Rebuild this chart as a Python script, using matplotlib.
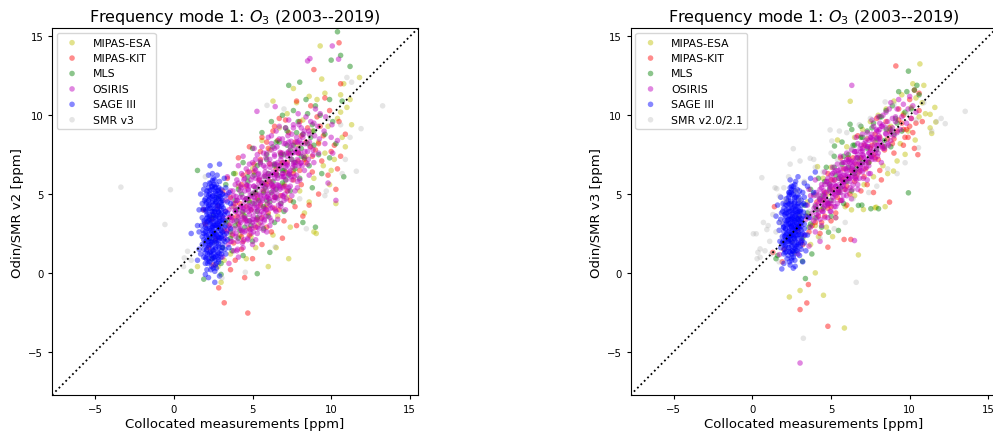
import matplotlib
matplotlib.use("Agg")
import matplotlib.pyplot as plt

# ---------------- data: (collocated, SMR) pairs in ppm ----------------
# Left panel: Odin/SMR v2
esa_v2 = [(1.5,0.4),(3.0,-0.6),(6.0,0.4),(7.3,0.9),(8.9,2.6),(9.05,2.5),(10.3,4.4),(10.2,7.2),(9.3,14.4),(11.8,12.4),
          (9.4,12.3),(7.6,11.7),(11.0,10.5),(10.6,10.2),(9.6,11.4),(8.6,11.2),(7.8,10.8),(9.1,11.0),(8.2,9.7),(9.8,9.3),
          (10.7,8.6),(10.4,9.8),(10.9,8.0),(9.2,8.3),(8.4,7.4),(7.6,6.5),(9.5,6.8),(8.9,6.0),(8.0,5.2),(9.9,5.6),
          (7.2,4.8),(6.6,3.6),(8.3,3.8),(7.4,2.9),(6.3,2.4),(5.2,1.6),(4.6,0.9),(5.4,3.1),(4.2,2.4),(3.6,1.2),
          (2.8,0.4),(3.3,3.2),(4.8,4.6),(5.8,5.7),(6.8,6.9),(7.9,8.1),(6.1,7.8),(5.0,6.6),(4.1,5.5),(3.9,6.3),
          (5.6,8.4),(6.7,9.2),(7.2,10.1),(6.3,10.9),(8.8,9.0),(9.6,7.6),(10.0,6.5),(11.3,9.4),(11.2,11.0),(10.8,12.0),
          (4.4,3.7),(5.9,4.3),(7.0,5.6),(8.6,4.5),(3.8,4.2),(2.6,2.0),(4.9,2.3),(6.5,1.6),(3.2,0.8),(10.6,11.3)]
kit_v2 = [(4.7,-2.55),(3.2,-1.9),(2.85,-0.95),(4.5,-0.3),(3.6,0.2),(2.2,1.6),(2.5,0.5),(3.9,0.8),(4.3,1.5),(5.0,0.9),
          (5.6,1.8),(6.2,2.6),(7.0,3.3),(7.8,3.0),(8.6,4.3),(9.2,5.0),(9.8,6.2),(10.4,6.6),(10.6,7.4),(10.2,8.1),
          (10.9,8.8),(10.5,9.6),(9.9,10.3),(10.6,12.0),(10.5,14.6),(8.9,12.9),(9.6,11.1),(8.7,10.6),(7.8,10.9),(7.1,9.7),
          (6.4,9.3),(5.6,8.6),(4.8,8.0),(4.1,7.3),(3.4,6.0),(3.1,5.2),(2.8,4.2),(2.4,3.4),(3.2,2.7),(3.7,3.5),
          (4.2,4.4),(4.6,5.5),(5.1,6.4),(5.5,7.2),(6.0,7.9),(6.6,8.4),(7.3,8.9),(8.0,9.6),(8.5,9.2),(9.1,9.9),
          (9.5,8.7),(9.0,7.8),(8.3,7.2),(7.6,6.3),(7.0,5.5),(6.4,4.8),(5.8,4.1),(5.3,3.4),(4.8,2.8),(4.3,2.3),
          (3.8,1.9),(5.9,2.9),(6.7,4.0),(7.4,4.6),(8.1,5.6),(8.8,6.4),(9.4,7.1),(10.0,7.7),(7.9,7.6),(7.2,7.0),
          (6.5,6.3),(5.9,5.6),(5.2,5.0),(4.6,4.2),(4.0,3.6),(3.5,3.0),(6.1,6.9),(6.8,7.6),(5.4,5.9),(4.4,6.2),
          (8.4,8.3),(9.3,9.3),(3.6,4.8),(2.7,2.2),(2.0,3.1),(6.9,2.2),(7.7,4.2),(8.2,3.6),(10.3,5.3),(1.9,4.0),
          (3.7,2.4),(4.1,3.1),(4.5,3.4),(4.9,4.0),(5.3,4.7),(5.7,5.2),(6.1,5.8),(6.5,6.6),(6.9,7.0),(7.3,7.6),
          (7.7,8.3),(8.1,8.7),(3.9,4.4),(4.3,5.6),(4.7,6.4),(5.1,6.9),(5.5,7.7),(5.9,8.3),(6.3,9.0),(6.7,9.8),
          (4.4,2.0),(4.8,2.4),(5.2,2.9),(5.6,3.5),(6.0,3.8),(6.4,4.1),(6.8,4.9),(7.2,5.2),(7.6,5.9),(8.0,6.5),
          (8.4,7.0),(8.8,7.4),(9.2,8.2),(5.5,4.3),(6.3,5.5),(7.1,6.4),(7.9,7.1),(8.7,8.0)]
mls_v2 = [(10.4,15.3),(10.6,13.8),(11.2,13.1),(10.0,13.5),(8.0,12.1),(7.3,11.9),(9.9,11.0),(10.7,10.9),(9.0,10.6),(8.4,11.0),
          (7.6,10.3),(6.9,10.0),(6.2,9.6),(5.6,8.9),(5.0,7.9),(4.4,7.0),(3.8,6.3),(3.3,5.6),(1.5,6.5),(2.8,4.8),
          (2.5,3.6),(2.3,2.2),(1.1,0.1),(1.9,-0.4),(5.3,-0.05),(3.0,0.6),(3.7,1.4),(4.4,1.1),(5.0,2.0),(5.7,2.8),
          (6.4,3.2),(7.0,3.9),(7.6,4.5),(8.2,3.2),(8.8,5.4),(9.4,6.3),(9.9,7.3),(10.3,8.2),(9.6,8.8),(8.9,8.1),
          (8.3,7.3),(7.7,6.6),(7.1,5.9),(6.5,5.3),(5.9,4.6),(5.3,3.9),(4.8,3.3),(4.2,2.7),(3.6,2.2),(3.1,1.6),
          (3.4,3.3),(4.0,4.0),(4.6,4.7),(5.2,5.4),(5.8,6.1),(6.4,6.8),(7.0,7.5),(7.6,8.1),(8.2,8.8),(8.8,9.4),
          (9.3,10.0),(4.1,5.3),(4.7,6.1),(5.3,6.8),(5.9,7.5),(6.5,8.3),(7.2,9.0),(7.9,9.6),(8.5,10.1),(6.0,3.6),
          (6.8,4.4),(7.4,5.2),(8.0,6.0),(8.6,6.8),(9.2,7.5),(3.9,3.0),(4.5,3.6),(5.1,4.4),(5.7,5.1),(6.3,5.8),
          (6.9,6.5),(7.5,7.2),(8.1,7.9),(8.7,8.6),(10.1,9.6),(10.8,6.1),(6.1,1.3),(9.0,2.9),(3.0,-0.1),(2.4,0.9),
          (3.6,2.6),(4.0,3.3),(4.4,3.9),(4.8,4.5),(5.2,5.1),(5.6,5.7),(6.0,6.3),(6.4,6.9),(6.8,7.5),(7.2,8.1),
          (3.9,4.6),(4.3,5.0),(4.7,5.8),(5.1,6.2),(5.5,7.0),(5.9,7.2),(6.3,8.0),(6.7,8.3),(7.1,9.2),(4.1,2.2),
          (4.5,2.9),(4.9,3.0),(5.3,3.5),(5.7,4.2),(6.1,4.5),(6.5,4.8),(6.9,5.7),(7.3,6.2),(7.7,7.0),(8.1,7.4),
          (8.5,8.2),(8.9,9.0),(5.0,5.0),(5.4,4.6),(5.8,5.4),(6.2,5.1),(6.6,6.2),(7.0,6.5),(7.4,7.8),(7.8,8.9)]
osiris_v2 = [(3.1,1.0),(3.25,2.2),(3.15,3.5),(3.3,4.6),(3.5,0.6),(3.45,1.8),(3.55,2.9),(3.5,4.0),(3.6,5.2),(3.4,6.1),
             (3.8,1.4),(3.75,2.5),(3.85,3.3),(3.8,4.4),(3.9,5.6),(4.1,1.0),(4.05,2.0),(4.15,3.0),(4.1,3.8),(4.2,4.8),
             (4.0,5.9),(4.1,6.8),(4.4,1.6),(4.35,2.6),(4.45,3.5),(4.4,4.3),(4.5,5.2),(4.3,6.3),(4.4,7.4),(4.7,2.2),
             (4.65,3.1),(4.75,3.9),(4.7,4.7),(4.8,5.5),(4.6,6.6),(5.0,1.8),(4.95,2.8),(5.05,3.6),(5.0,4.4),(5.1,5.1),
             (4.9,5.9),(5.0,7.0),(5.1,7.9),(5.3,2.5),(5.25,3.4),(5.35,4.2),(5.3,4.9),(5.4,5.7),(5.2,6.5),(5.3,7.5),
             (5.28,10.25),(5.6,3.0),(5.55,3.9),(5.65,4.6),(5.6,5.3),(5.7,6.1),(5.5,6.9),(5.6,8.0),(5.9,2.6),(5.85,3.6),
             (5.95,4.4),(5.9,5.2),(6.0,5.9),(5.8,6.7),(5.9,7.6),(6.0,8.6),(6.2,3.3),(6.15,4.1),(6.25,5.0),(6.2,5.7),
             (6.3,6.4),(6.1,7.2),(6.2,8.2),(6.5,3.9),(6.45,4.8),(6.55,5.6),(6.5,6.3),(6.6,7.0),(6.4,7.9),(6.5,9.0),
             (6.44,10.55),(6.8,4.4),(6.75,5.3),(6.85,6.1),(6.8,6.8),(6.9,7.6),(6.7,8.5),(7.1,4.0),(7.05,5.0),(7.15,5.9),
             (7.1,6.7),(7.2,7.4),(7.0,8.2),(7.1,9.2),(7.4,5.5),(7.35,6.4),(7.45,7.2),(7.4,8.0),(7.5,8.8),(7.3,9.7),
             (7.7,5.2),(7.65,6.1),(7.75,7.0),(7.7,7.8),(7.8,8.6),(7.6,9.4),(8.0,5.9),(7.95,6.8),(8.05,7.6),(8.0,8.4),
             (8.1,9.2),(7.9,10.1),(8.3,6.5),(8.25,7.4),(8.35,8.2),(8.3,9.0),(8.4,9.9),(8.6,6.2),(8.55,7.2),(8.65,8.0),
             (8.6,8.8),(8.7,9.6),(8.5,13.45),(8.65,13.6),(8.9,7.0),(8.85,7.8),(8.95,8.7),(8.9,9.5),(9.0,10.4),(9.2,7.6),
             (9.25,8.5),(9.15,9.3),(9.3,10.1),(9.6,8.2),(9.55,9.0),(9.65,9.9),(10.0,8.6),(10.05,9.4),(10.07,14.4),(10.47,13.56),
             (10.3,4.6),(9.8,5.7),(10.1,7.6),(4.25,3.2),(4.55,4.0),(4.85,3.3),(5.15,4.6),(5.45,3.7),(5.75,4.9),(6.05,5.5),
             (6.35,4.6),(6.65,6.6),(4.6,2.7),(5.2,2.1),(3.95,4.1),(4.25,5.5),(5.75,5.7),(6.95,5.4),(6.35,6.9),(5.45,5.9),
             (4.7,4.3),(5.1,3.0),(5.5,4.4),(5.85,4.0),(6.15,6.2),(6.55,5.0),(7.25,6.3),(7.55,7.6),(7.85,7.2),(10.4,8.4),
             (3.35,2.6),(3.65,3.6),(3.95,2.3),(4.25,4.2),(4.55,3.3),(4.85,4.9),(5.15,3.9),(5.45,5.0),(5.75,3.4),(6.05,4.7),
             (6.35,5.5),(6.65,4.3),(6.95,6.1),(7.25,5.2),(7.55,6.7),(7.85,5.8),(3.6,3.1),(3.9,3.9),(4.2,2.8),(4.5,4.6),
             (4.8,3.7),(5.1,5.5),(5.4,4.5),(5.7,3.8),(6.0,6.3),(6.3,5.2),(6.6,6.0),(6.9,4.9),(7.2,6.8),(7.5,5.9),
             (4.0,4.6),(4.3,3.6),(4.6,5.6),(4.9,4.1),(5.2,6.0),(5.5,3.2),(5.8,6.4),(6.1,4.3),(6.4,7.4),(6.7,5.5),
             (7.0,7.0),(7.3,8.3),(7.6,6.9),(7.9,7.9),(8.2,8.6),(8.5,7.7),(3.7,2.0),(4.05,1.5),(4.45,2.1),(4.9,2.5),
             (5.3,2.9),(5.7,2.7),(6.1,3.0),(6.6,3.4),(7.0,4.6),(4.2,5.2),(4.5,6.0),(4.8,6.9),(5.2,7.2),(5.7,7.6),
             (6.2,8.7),(6.7,9.3),(3.5,3.5),(3.8,4.9),(5.0,3.2),(5.4,6.3),(5.9,4.8),(6.4,6.0),(6.8,7.2),(7.3,7.7),
             (4.35,3.9),(4.75,5.2),(5.15,4.3),(5.6,5.7),(6.0,5.0),(6.45,5.3),(6.9,6.3),(7.4,6.5),(7.8,8.3),(8.1,7.0),
             (3.4,2.7),(3.72,3.35),(4.08,3.5),(4.43,4.1),(4.82,4.2),(5.12,4.78),(5.53,4.9),(5.83,5.5),(6.22,5.6),(6.52,6.2),
             (6.93,6.3),(7.22,6.9),(7.63,7.0),(7.92,7.6),(8.33,7.7),(8.62,8.3),(3.3,3.9),(3.68,4.2),(4.02,4.6),(4.38,4.8),
             (4.72,5.3),(5.08,5.5),(5.42,6.0),(5.78,6.2),(6.12,6.7),(6.48,6.9),(6.82,7.4),(7.18,7.6),(7.52,8.1),(7.88,8.3),
             (8.22,8.8),(8.58,9.0),(3.6,2.0),(3.95,2.5),(4.3,2.7),(4.65,3.3),(5.0,3.4),(5.35,4.0),(5.7,4.1),(6.05,4.7),
             (6.4,4.8),(6.75,5.4),(7.1,5.5),(7.45,6.1),(7.8,6.2),(8.15,6.8),(8.5,6.9),(8.85,7.5),(3.4,5.0),(3.75,5.2),
             (4.1,5.7),(4.45,5.9),(4.8,6.4),(5.15,6.6),(5.5,7.1),(5.85,7.3),(6.2,7.8),(6.55,8.0),(6.9,8.5),(7.25,8.7),
             (7.6,9.2),(7.95,9.4),(4.0,1.4),(4.35,1.9),(4.7,2.1),(5.05,2.6),(5.4,2.8),(5.75,3.3),(6.1,3.5),(6.45,4.0),
             (6.8,4.2),(7.15,4.7),(7.5,4.9),(7.85,5.4),(3.55,3.5),(3.9,3.95),(4.25,4.15),(4.6,4.7),(4.95,4.85),(5.3,5.4),
             (5.65,5.55),(6.0,6.1),(6.35,6.25),(6.7,6.8),(7.05,6.95),(7.4,7.5),(7.75,7.65),(8.1,8.2),(3.85,2.8),(4.2,3.3),
             (4.55,3.45),(4.9,4.0),(5.25,4.15),(5.6,4.7),(5.95,4.85),(6.3,5.4),(6.65,5.55),(7.0,6.1),(7.35,6.25),(7.7,6.8),
             (8.05,6.95),(3.6,4.7),(3.95,4.85),(4.3,5.4),(4.65,5.55),(5.0,6.1),(5.35,6.25),(5.7,6.8),(6.05,6.95),(6.4,7.5),
             (6.75,7.65),(7.1,8.2),(7.45,8.35),(4.5,2.6),(4.85,2.75),(5.2,3.3),(5.55,3.45),(5.9,4.0),(6.25,4.15),(6.6,4.7),
             (6.95,4.85),(7.3,5.4)]
sage_v2 = [(2.0,0.6),(2.2,0.9),(2.4,1.1),(2.6,0.8),(2.8,1.3),(3.0,1.0),(2.1,1.5),(2.3,1.8),(2.5,1.4),(2.7,1.9),
           (2.9,1.6),(3.1,1.8),(1.9,2.1),(2.2,2.4),(2.4,2.2),(2.6,2.6),(2.8,2.3),(3.0,2.7),(3.2,2.4),(2.0,2.9),
           (2.3,3.1),(2.5,2.9),(2.7,3.3),(2.9,3.0),(3.1,3.4),(1.8,3.5),(2.1,3.7),(2.4,3.5),(2.6,3.9),(2.8,3.6),
           (3.0,4.0),(2.2,4.3),(2.5,4.1),(2.7,4.5),(2.9,4.2),(3.1,4.6),(2.0,4.7),(2.3,5.0),(2.6,4.8),(2.8,5.2),
           (2.4,5.5),(2.7,5.6),(3.0,5.3),(2.9,5.8),(2.5,6.0),(1.7,1.2),(1.6,2.6),(1.8,4.4),(1.9,1.0),(2.1,0.2),
           (2.4,0.4),(2.7,0.3),(3.3,1.2),(3.4,2.1),(3.3,3.0),(3.4,3.8),(3.3,4.9),(3.5,5.1),(3.5,1.6),(2.0,-0.1),
           (2.6,-0.6),(2.2,-0.3),(2.9,-0.2),(2.3,6.8),(2.9,6.9),(1.1,2.5),(1.5,3.0),(1.6,4.0),(1.7,5.0),(2.0,5.6),
           (2.2,6.2),(3.2,6.0),(3.6,4.4),(3.6,2.8),(1.8,1.8),(1.6,1.5),(1.5,0.8),(2.15,1.2),(2.45,1.65),(2.75,1.15),
           (2.35,2.7),(2.65,2.15),(2.95,2.45),(2.25,3.4),(2.55,3.25),(2.85,3.85),(2.15,4.05),(2.45,4.55),(2.75,4.05),(2.35,5.25),
           (2.65,5.15),(2.95,4.85),(2.05,2.35),(3.05,3.15),(2.5,0.3),(1.95,3.2),(2.2,2.0),(2.55,1.95),(2.85,2.85),(2.4,3.9),
           (2.65,4.4),(2.3,4.8),(2.9,3.5),(2.6,3.0),(2.1,2.8),(3.15,2.1),(2.0,1.8),(2.35,1.35),(2.65,1.6),(2.5,2.4),
           (2.8,1.7),(2.45,2.95),(2.7,3.6),(2.2,3.3),(2.95,4.5),(2.5,5.3),(2.3,4.3),(2.75,2.6),(2.05,4.4),(3.2,3.7),
           (2.6,5.9),(2.85,0.7),(2.15,0.6),(1.85,2.7),(3.1,5.0),(2.3,0.7),(2.55,0.95),(2.0,1.25),(3.25,1.5),(2.4,2.55),
           (2.1,3.25),(2.75,3.0),(3.05,3.8),(2.5,3.7),(2.2,4.6),(2.85,4.7),(2.55,5.6),(2.1,5.2),(3.0,2.2),(1.85,4.0),
           (2.05,0.9),(2.3,1.3),(2.55,1.2),(2.8,1.0),(3.0,1.4),(2.1,2.1),(2.35,1.95),(2.6,2.3),(2.85,2.05),(3.1,2.6),
           (2.0,2.6),(2.25,2.8),(2.5,2.65),(2.75,3.15),(3.0,2.95),(2.15,3.55),(2.4,3.25),(2.65,3.65),(2.9,3.3),(3.15,4.1),
           (2.05,3.9),(2.3,4.1),(2.55,3.85),(2.8,4.3),(3.05,4.35),(2.2,4.9),(2.45,4.85),(2.7,4.75),(2.95,5.1),(2.35,5.7),
           (2.6,5.45),(2.85,5.4),(2.45,6.3),(2.75,6.2),(1.9,1.5),(1.95,4.6),(1.9,5.3),(3.3,5.4),(3.35,2.5),(3.4,4.5),
           (2.5,1.0),(2.7,0.6),(2.35,0.2),(2.6,0.1),(2.15,1.75),(2.9,2.2),(2.4,2.0),(2.7,2.4),(2.55,3.0),(2.3,3.6),
           (2.8,3.9),(2.5,4.3),(2.2,5.4),(2.75,5.0),(3.0,4.7),(1.75,3.0),(1.8,2.3),(3.25,3.3),(2.95,3.7),(2.6,4.65),
           (2.03,0.95),(2.07,1.45),(2.02,2.0),(2.06,2.45),(2.04,3.0),(2.08,3.45),(2.03,4.0),(2.07,4.5),(2.05,5.0),
           (2.24,0.7),(2.27,1.2),(2.23,1.7),(2.26,2.2),(2.22,2.7),(2.28,3.2),(2.25,3.7),(2.21,4.2),(2.27,4.7),(2.24,5.2),(2.26,5.7),
           (2.44,0.9),(2.47,1.45),(2.43,1.9),(2.46,2.45),(2.42,2.9),(2.48,3.45),(2.45,3.9),(2.41,4.45),(2.47,4.9),(2.44,5.45),(2.46,5.85),
           (2.64,0.5),(2.67,1.05),(2.63,1.5),(2.66,2.05),(2.62,2.5),(2.68,3.05),(2.65,3.5),(2.61,4.05),(2.67,4.5),(2.64,5.05),(2.66,5.4),
           (2.84,0.85),(2.87,1.25),(2.83,1.85),(2.86,2.25),(2.82,2.85),(2.88,3.25),(2.85,3.85),(2.81,4.25),(2.87,4.85),(2.84,5.25),
           (3.04,1.2),(3.07,1.6),(3.03,2.3),(3.06,2.6),(3.02,3.3),(3.08,3.6),(3.05,4.2),(3.01,4.5),(3.07,5.0),
           (1.9,2.5),(1.92,3.3),(1.88,4.1),(3.25,2.0),(3.22,2.9),(3.27,3.9)]
smr3_v2 = [(-3.37,5.44),(-0.22,5.28),(-0.57,3.07),(0.61,0.4),(0.66,0.95),(0.87,1.37),(1.1,0.8),(13.27,10.6),(11.9,9.15),(11.6,6.45),
           (11.0,12.4),(11.3,12.1),(5.92,10.63),(8.42,2.8),(10.9,7.2),(10.7,6.3),(11.2,8.6),(9.8,9.8),(10.6,9.4),(7.0,10.4),
           (3.05,-0.32),(4.54,0.04),(6.44,1.65),(9.69,5.19),(9.6,4.9),(8.0,4.7),(2.0,6.1)]

# Right panel: Odin/SMR v3
esa_v3 = [(10.65,13.26),(6.22,10.89),(11.66,9.57),(4.0,0.0),(3.03,-1.12),(2.35,-1.53),(4.52,-1.42),(5.85,-3.5),(6.74,1.14),(7.06,4.02),
          (7.8,4.13),(8.44,4.2),(11.3,10.06),(11.6,10.5),(11.3,9.2),(11.4,8.85),(10.8,10.8),(10.4,11.1),(10.2,12.0),(10.9,11.9),
          (9.9,9.0),(9.4,8.2),(10.35,8.43),(9.71,7.52),(8.97,6.46),(8.3,6.8),(7.7,6.1),(7.1,5.6),(6.5,4.9),(5.9,4.2),
          (5.3,3.5),(4.7,2.9),(4.2,2.3),(3.7,1.8),(2.7,1.3),(2.0,1.5),(3.0,3.6),(3.5,4.5),(4.14,6.74),(4.5,6.0),
          (5.0,6.7),(5.41,8.43),(6.0,8.0),(6.5,8.6),(7.0,9.1),(7.5,9.6),(8.0,10.0),(8.5,10.4),(9.0,10.9),(9.5,11.3),
          (7.8,8.3),(6.8,7.2),(5.8,6.0),(4.8,5.0),(8.8,9.3),(9.6,10.1),(10.6,9.9),(6.3,4.0),(8.6,6.3),(9.2,7.1),
          (4.0,3.0),(2.5,2.0),(11.0,10.1),(5.1,2.3),(7.87,4.17),(10.1,10.5)]
kit_v3 = [(9.12,13.13),(8.72,4.49),(10.52,7.5),(3.56,-0.74),(3.46,-1.91),(3.03,-2.33),(4.8,-3.39),(5.83,2.12),(6.26,2.12),(4.8,1.63),
          (1.4,4.2),(1.3,1.3),(1.9,0.7),(3.2,1.8),(3.6,2.6),(4.0,3.2),(4.3,2.5),(4.6,3.6),(5.0,4.2),(5.3,3.8),
          (5.6,4.6),(5.9,5.3),(6.2,5.0),(6.5,5.8),(6.8,6.4),(7.1,6.1),(7.4,7.0),(7.7,7.5),(8.0,7.2),(8.3,8.0),
          (8.6,8.5),(8.9,8.2),(9.2,9.0),(9.5,9.5),(9.8,9.1),(10.1,9.8),(10.4,9.5),(10.6,10.3),(10.3,11.6),(10.6,11.4),
          (10.0,11.0),(9.3,10.4),(8.5,9.6),(7.8,8.8),(7.1,8.1),(6.4,7.3),(5.8,6.6),(5.2,5.9),(4.6,5.1),(4.1,4.5),
          (3.5,3.6),(2.9,2.7),(4.4,4.0),(5.5,5.2),(6.6,6.9),(7.6,8.1),(8.7,9.2),(9.6,10.0),(9.9,8.6),(10.8,9.6),
          (10.2,8.9),(7.3,5.6),(8.1,6.5),(9.0,7.6),(6.0,4.3),(5.0,3.3),(9.6,8.1),(10.3,7.9),(7.9,9.8),(6.7,8.7),
          (5.6,7.3),(4.8,6.3),(7.7,5.1),(8.2,5.9),(9.7,8.6),(6.9,5.2),
          (4.2,3.6),(4.8,4.1),(5.4,4.8),(6.0,5.5),(6.6,6.1),(7.2,6.6),(7.8,7.3),(8.4,7.8),(9.0,8.5),(9.6,9.1),
          (4.5,4.6),(5.1,5.3),(5.7,5.9),(6.3,6.5),(6.9,7.3),(7.5,7.9),(8.1,8.6),(8.7,9.0),(9.3,9.7),(10.0,9.3),
          (5.0,5.9),(6.1,7.3),(7.3,8.5),(3.8,3.0),(4.4,3.2)]
mls_v3 = [(9.92,12.8),(10.46,11.9),(9.82,11.5),(9.92,5.08),(3.37,-0.36),(3.18,0.74),(3.78,1.2),(4.84,2.58),(5.47,2.69),(6.96,4.3),
          (7.53,4.07),(8.02,4.07),(6.74,4.28),(5.22,8.05),(6.21,9.43),(6.32,9.1),(10.6,11.3),(6.9,9.3),(5.7,8.3),(5.2,7.4),
          (4.7,6.7),(4.2,6.0),(3.7,5.3),(3.3,4.3),(2.9,3.4),(2.4,2.4),(1.6,1.1),(1.5,0.9),(3.2,2.2),(3.7,3.1),
          (4.1,4.0),(4.5,4.9),(4.9,5.6),(5.3,6.2),(5.7,6.9),(6.1,7.5),(6.5,8.1),(6.9,8.6),(7.3,9.0),(7.7,9.5),
          (8.1,9.9),(8.5,10.3),(8.9,10.6),(9.3,11.5),(7.9,7.8),(8.4,8.4),(8.8,9.1),(9.2,9.5),(9.7,10.2),(10.1,10.4),
          (7.5,7.4),(7.0,7.0),(6.5,6.3),(6.0,5.8),(5.5,5.1),(5.0,4.6),(4.5,4.1),(4.0,3.5),(3.6,2.9),(4.4,2.9),
          (5.0,3.6),(5.8,4.4),(6.3,5.2),(10.3,11.6),(8.8,8.0),(9.5,9.0),
          (4.3,4.7),(4.9,5.3),(5.5,6.0),(6.1,6.7),(6.7,7.3),(7.3,7.9),(7.9,8.5),(8.5,9.1),(9.1,9.8),(4.6,5.8),
          (5.2,6.7),(5.8,7.4),(6.4,8.1),(7.0,8.6),(7.6,9.2),(8.2,9.9),(4.0,4.2),(4.8,4.4),(5.6,5.4),(6.6,6.6),
          (7.4,7.0),(8.4,8.0),(9.0,8.8),(3.5,3.8),(3.9,5.0)]
osiris_v3 = [(3.3,2.4),(3.4,3.4),(3.5,4.3),(3.6,1.7),(3.7,2.9),(3.8,3.8),(3.9,4.9),(3.6,5.3),(4.0,2.6),(4.1,3.5),
             (4.2,4.4),(4.3,5.3),(4.4,3.0),(4.5,3.9),(4.6,4.8),(4.7,5.8),(4.8,3.5),(4.9,4.4),(4.0,5.9),(4.3,2.0),
             (4.6,6.4),(4.9,5.2),(5.0,3.9),(5.1,4.8),(5.2,5.6),(5.3,6.5),(5.4,4.4),(5.5,5.3),(5.6,6.1),(5.7,7.0),
             (5.8,4.9),(5.9,5.8),(5.0,6.2),(5.3,3.5),(5.6,7.4),(5.9,6.6),(5.2,4.2),(5.7,5.5),(6.0,5.2),(6.1,6.1),
             (6.2,7.0),(6.3,7.8),(6.4,5.6),(6.5,6.5),(6.6,7.3),(6.7,8.2),(6.8,6.0),(6.9,6.9),(6.0,7.6),(6.3,4.7),
             (6.6,8.6),(6.9,7.7),(6.49,2.05),(6.32,11.9),(6.2,6.5),(6.7,5.3),(7.0,6.4),(7.1,7.3),(7.2,8.1),(7.3,8.9),
             (7.4,6.8),(7.5,7.7),(7.6,8.5),(7.7,9.3),(7.8,7.2),(7.9,8.1),(7.0,8.8),(7.3,5.9),(7.6,9.7),(7.9,9.0),
             (7.5,6.3),(8.0,7.6),(8.1,8.5),(8.2,9.3),(8.3,10.0),(8.4,7.9),(8.5,8.8),(8.6,9.6),(8.7,10.4),(8.8,8.4),
             (8.9,9.2),(8.2,7.0),(8.5,10.2),(8.8,10.8),(8.0,9.9),(9.0,8.7),(9.1,9.6),(9.2,10.4),(9.4,9.1),(9.5,9.9),
             (9.6,10.7),(9.8,9.5),(9.9,10.4),(10.1,9.8),(10.2,10.6),(10.4,10.2),(9.3,11.0),(10.0,11.2),(2.9,1.2),(3.0,3.0),
             (3.1,2.0),(1.72,1.16),(2.0,1.5),(3.03,-5.72),(4.5,5.0),(5.0,5.5),(5.5,6.0),(6.0,6.5),(6.5,7.0),(7.0,7.5),
             (7.5,8.0),(8.0,8.5),(4.8,4.3),(5.3,4.9),(5.8,5.5),(6.3,6.1),(6.8,6.6),(7.3,7.1),(4.4,4.6),(5.1,5.9),
             (5.6,6.6),(6.1,7.1),(6.6,7.7),(7.1,8.2),(7.6,8.8),(8.1,9.1),(3.9,3.3),(4.2,3.8),(4.7,4.5),(5.4,5.1),
             (5.9,6.2),(6.4,6.8),(6.9,7.3),(7.4,7.6),(4.1,4.1),(4.6,4.2),(5.2,5.2),(5.7,5.8),(6.2,6.0),(6.7,6.3),
             (4.3,4.7),(4.6,4.3),(4.9,5.5),(5.2,5.0),(5.5,6.3),(5.8,5.8),(6.1,6.8),(6.4,6.3),(6.7,7.5),(7.0,6.9),
             (7.3,8.0),(7.6,7.4),(7.9,8.6),(8.2,8.0),(8.5,9.2),(8.8,8.8),(9.1,9.9),(4.1,4.9),(4.4,5.4),(4.7,5.1),
             (5.0,4.4),(5.3,5.5),(5.6,5.1),(5.9,7.0),(6.2,5.4),(6.5,7.7),(6.8,7.0),(7.1,6.6),(7.4,8.4),(7.7,7.8),
             (8.0,8.1),(8.3,9.4),(8.6,8.2),(8.9,9.8),(9.2,8.9),(3.7,3.5),(4.0,4.3),(4.3,3.4),(4.8,6.0),(5.1,6.7),
             (5.4,6.9),(5.7,4.6),(6.0,7.2),(6.3,6.6),(6.6,5.9),(6.9,8.1),(7.2,7.0),(7.5,8.6),(7.8,7.6),(8.1,9.5),
             (5.5,5.6),(6.0,6.0),(6.5,6.1),(7.0,7.9),(7.5,7.3),(8.0,9.0),(4.6,5.6),(5.2,6.4),(5.8,6.2),(6.4,7.1),
             (3.92,4.1),(4.27,4.65),(4.62,4.85),(4.97,5.35),(5.32,5.5),(5.67,6.05),(6.02,6.2),(6.37,6.75),(6.72,6.9),(7.07,7.45),
             (7.42,7.6),(7.77,8.15),(8.12,8.3),(8.47,8.85),(8.82,9.0),(4.1,3.7),(4.45,3.9),(4.8,4.4),(5.15,4.6),(5.5,5.1),
             (5.85,5.3),(6.2,5.8),(6.55,6.0),(6.9,6.5),(7.25,6.7),(7.6,7.2),(7.95,7.4),(8.3,7.9),(8.65,8.1),(3.7,4.9),
             (4.05,5.1),(4.4,5.6),(4.75,5.8),(5.1,6.3),(5.45,6.5),(5.8,7.0),(6.15,7.2),(6.5,7.7),(6.85,7.9),(7.2,8.4),
             (7.55,8.6),(7.9,9.1),(8.25,9.3),(4.4,4.35),(4.75,4.6),(5.1,5.05),(5.45,5.3),(5.8,5.75),(6.15,6.0),(6.5,6.45),
             (6.85,6.7),(7.2,7.15),(7.55,7.4),(7.9,7.85),(8.25,8.1),(4.2,4.95),(4.55,5.2),(4.9,5.65),(5.25,5.9),(5.6,6.35),
             (5.95,6.6),(6.3,7.05),(6.65,7.3),(7.0,7.75),(7.35,8.0),(7.7,8.45),(8.05,8.7),(4.6,3.5),(4.95,3.9),(5.3,4.2),
             (5.65,4.6),(6.0,4.9),(6.35,5.3),(6.7,5.6),(7.05,6.0),(7.4,6.3)]
sage_v3 = [(2.0,1.2),(2.2,0.9),(2.4,1.3),(2.6,1.0),(2.8,1.4),(3.0,1.1),(2.1,1.7),(2.3,2.0),(2.5,1.7),(2.7,2.1),
           (2.9,1.8),(3.1,2.2),(3.3,1.9),(1.9,2.3),(2.2,2.5),(2.4,2.3),(2.6,2.7),(2.8,2.4),(3.0,2.8),(3.2,2.5),
           (2.0,2.9),(2.3,3.1),(2.5,2.9),(2.7,3.3),(2.9,3.0),(3.1,3.4),(3.3,3.1),(1.8,3.4),(2.1,3.6),(2.4,3.4),
           (2.6,3.8),(2.8,3.5),(3.0,3.9),(3.2,3.6),(2.0,4.1),(2.2,4.3),(2.5,4.1),(2.7,4.5),(2.9,4.2),(3.1,4.6),
           (3.4,4.3),(2.3,4.8),(2.6,5.0),(2.8,4.8),(3.0,5.2),(2.4,5.4),(2.7,5.6),(3.2,5.1),(2.4,5.9),(2.9,6.1),
           (3.7,6.0),(3.5,5.5),(1.6,4.3),(1.5,3.6),(1.7,2.7),(1.8,1.6),(2.0,0.6),(2.4,0.5),(2.6,0.3),(1.87,0.25),
           (2.72,0.42),(3.2,0.7),(3.4,1.4),(3.5,2.4),(3.6,3.5),(3.7,4.6),(3.9,5.1),(4.0,6.4),(3.3,5.7),(2.15,1.35),
           (2.45,1.85),(2.75,1.55),(2.35,2.65),(2.65,2.2),(2.95,2.45),(2.25,3.35),(2.55,3.25),(2.85,3.85),(2.15,4.0),(2.45,4.55),
           (2.75,4.05),(2.35,5.1),(2.65,5.25),(2.95,4.8),(2.05,2.3),(3.05,3.15),(2.5,0.8),(1.95,3.1),(2.2,2.0),(2.55,1.95),
           (2.85,2.85),(2.4,3.9),(2.65,4.4),(2.3,4.4),(2.9,3.45),(2.6,3.0),(2.1,2.8),(3.15,2.05),(2.0,1.8),(2.35,1.35),
           (2.65,1.6),(2.5,2.4),(2.8,1.7),(2.45,2.95),(2.7,3.6),(2.2,3.3),(2.95,4.45),(2.5,5.3),(3.25,3.85),(2.75,2.6),
           (3.3,2.8),(1.85,3.8),(2.15,4.7),(3.1,1.5),(2.55,3.55),(2.35,2.25),(2.85,3.15),(2.6,2.45),(2.4,3.15),(2.7,2.85),
           (2.05,1.5),(2.3,1.6),(2.55,1.4),(2.8,1.9),(3.05,1.7),(2.1,2.1),(2.35,2.85),(2.6,2.35),(2.85,2.2),(3.1,2.7),
           (2.0,2.6),(2.25,2.2),(2.5,2.6),(2.75,2.95),(3.0,3.3),(2.15,3.1),(2.4,3.6),(2.65,3.45),(2.9,3.7),(3.15,3.2),
           (2.05,3.7),(2.3,3.9),(2.55,3.75),(2.8,4.2),(3.05,4.0),(2.2,4.5),(2.45,4.3),(2.7,4.8),(2.95,4.6),(2.35,4.95),
           (2.6,5.5),(2.85,5.3),(2.45,5.1),(2.75,5.8),(1.9,1.9),(1.95,4.4),(1.7,3.2),(3.3,4.8),(3.35,2.4),(3.4,3.6),
           (2.5,1.2),(2.7,0.8),(2.35,0.7),(2.6,1.35),(2.15,2.45),(2.9,2.6),(2.4,2.1),(2.7,2.7),(2.55,3.1),(2.3,3.4),
           (2.8,3.2),(2.5,3.45),(2.2,3.8),(2.75,3.9),(3.0,3.6),(1.75,2.0),(1.8,4.8),(3.25,4.4),(2.95,2.9),(2.6,4.1),
           (2.08,1.3),(2.12,1.8),(2.09,2.35),(2.11,2.8),(2.07,3.35),(2.13,3.8),(2.1,4.35),
           (2.28,1.1),(2.32,1.6),(2.29,2.1),(2.31,2.6),(2.27,3.1),(2.33,3.6),(2.3,4.1),(2.28,4.6),(2.32,5.1),
           (2.48,0.95),(2.52,1.4),(2.49,1.95),(2.51,2.4),(2.47,2.95),(2.53,3.4),(2.5,3.95),(2.48,4.4),(2.52,4.95),(2.49,5.5),
           (2.68,1.2),(2.72,1.7),(2.69,2.2),(2.71,2.75),(2.67,3.2),(2.73,3.75),(2.7,4.2),(2.68,4.7),(2.72,5.2),
           (2.88,1.4),(2.92,1.9),(2.89,2.4),(2.91,2.9),(2.87,3.4),(2.93,3.9),(2.9,4.4),(2.88,4.95),
           (3.08,1.9),(3.12,2.4),(3.09,2.95),(3.11,3.45),(3.07,3.9),(3.13,4.3),(1.95,2.0),(1.97,2.9),(1.93,3.9)]
smr2_v3 = [(13.53,10.25),(12.26,9.47),(0.6,6.04),(2.6,7.88),(0.06,2.48),(0.24,2.48),(0.49,1.52),(0.49,0.99),(0.92,2.75),(0.7,3.2),
           (1.3,3.7),(1.55,5.34),(3.24,-4.15),(6.6,-0.6),(0.8,1.4),(1.1,2.0),(1.2,1.2),(0.35,1.3),(1.0,3.0),(1.5,2.6),
           (1.72,4.87),(1.44,5.4),(2.0,5.4),(2.3,6.1),(3.03,7.1),(3.67,7.27),(3.9,7.2),(4.94,9.07),(5.53,9.0),(5.05,8.37),
           (6.0,8.9),(6.8,9.4),(7.5,9.8),(8.44,10.85),(9.0,10.7),(9.8,10.1),(11.7,9.6),(11.4,9.0),(10.56,7.94),(9.71,6.99),
           (9.2,6.3),(8.6,6.6),(7.91,5.5),(7.4,5.1),(5.9,3.2),(5.2,2.8),(4.3,2.2),(3.6,3.9),(4.1,4.9),(2.8,5.2),
           (3.3,5.8),(4.5,6.4),(5.4,7.2),(1.8,3.2),(2.1,4.6),(6.3,7.9),(7.2,8.6),(8.6,9.2),(4.0,6.7),(3.0,4.6),
           (10.9,10.8),(12.0,9.8),(0.3,0.9),(1.7,0.7),(2.4,6.9),(5.0,7.6),(6.4,4.7),(10.4,9.7)]

series_names_left = ["MIPAS-ESA", "MIPAS-KIT", "MLS", "OSIRIS", "SAGE III", "SMR v3"]
series_names_right = ["MIPAS-ESA", "MIPAS-KIT", "MLS", "OSIRIS", "SAGE III", "SMR v2.0/2.1"]
series_colors = ["y", "r", "g", "m", "b", "darkgray"]
series_alpha = [0.45, 0.45, 0.45, 0.47, 0.47, 0.3]
left_data = [esa_v2, kit_v2, mls_v2, osiris_v2, sage_v2, smr3_v2]
right_data = [esa_v3, kit_v3, mls_v3, osiris_v3, sage_v3, smr2_v3]
ylabels = ["Odin/SMR v2 [ppm]", "Odin/SMR v3 [ppm]"]
ticks = [-5, 0, 5, 10, 15]
lim = (-7.75, 15.52)

fig = plt.figure(figsize=(9.93, 4.35), dpi=100)
ax1 = fig.add_axes([52/993, 39/435, 366/993, 366.7/435])
ax2 = fig.add_axes([630.5/993, 39/435, 366/993, 366.7/435])

for ax, data, names, ylab in [(ax1, left_data, series_names_left, ylabels[0]),
                              (ax2, right_data, series_names_right, ylabels[1])]:
    for pts, name, col, al in zip(data, names, series_colors, series_alpha):
        xs = [p[0] for p in pts]
        ys = [p[1] for p in pts]
        ax.scatter(xs, ys, s=16, c=col, alpha=al, edgecolors="none", label=name)
    ax.plot(lim, lim, color="k", linestyle=":", linewidth=1.3)
    ax.set_xlim(lim)
    ax.set_ylim(lim)
    ax.set_xticks(ticks)
    ax.set_yticks(ticks)
    ax.tick_params(labelsize=7.3, length=3.2, pad=3.0)
    ax.set_xlabel("Collocated measurements [ppm]", fontsize=9.5, labelpad=2.5)
    ax.set_ylabel(ylab, fontsize=9.5, labelpad=3)
    ax.set_title("Frequency mode 1: $O_3$ (2003--2019)", fontsize=11.5, pad=5.5)
    ax.legend(loc="upper left", fontsize=7.8, scatterpoints=1, frameon=True,
              borderaxespad=0.45, handletextpad=0.9)

fig.savefig("out.png", dpi=100)
